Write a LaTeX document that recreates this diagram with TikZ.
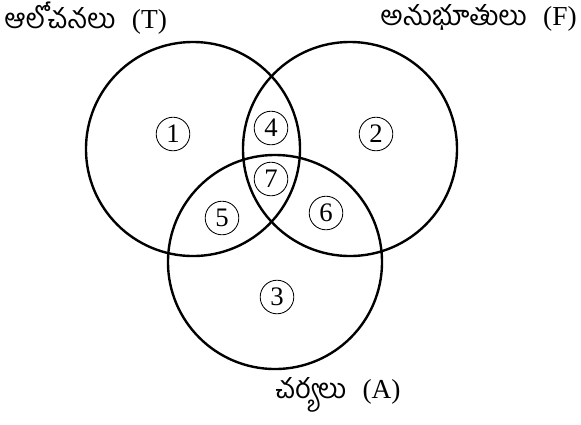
\documentclass[tikz,border=0pt]{standalone}
\usepackage{fontspec}
\setmainfont{Liberation Serif}
\newfontfamily\telugufont[Script=Telugu]{Hind Guntur}
\usetikzlibrary{positioning}

\begin{document}
\begin{tikzpicture}[x=0.025cm,y=-0.025cm,
  setcircle/.style={circle,draw,line width=1.7pt,minimum size=5.35cm,inner sep=0pt},
  region/.style={circle,draw,line width=0.6pt,minimum size=0.84cm,inner sep=0pt,
                 font=\fontsize{19}{19}\selectfont},
  setlabel/.style={inner sep=0pt,font=\fontsize{19.5}{24}\selectfont}]
\useasboundingbox (0,0) rectangle (581,424);
% the three sets
\node[setcircle] (thought) at (193,149) {};
\node[setcircle] (feeling) at (350,149) {};
\node[setcircle] (action)  at (275,262) {};
% set names
\node[setlabel,anchor=west] (tlabel) at (4,18)    {{\telugufont ఆలోచనలు}\hspace{0.6em}(T)};
\node[setlabel,anchor=east] (flabel) at (577,18)  {{\telugufont అనుభూతులు}\hspace{0.6em}(F)};
\node[setlabel]             (alabel) at (338,395) {{\telugufont చర్యలు}\hspace{0.6em}(A)};
% regions
\node[region] (r1) at (173,134) {1};
\node[region] (r2) at (376,134) {2};
\node[region] (r3) at (277,297) {3};
\node[region] (r4) at (271,128) {4};
\node[region] (r5) at (222,218) {5};
\node[region] (r6) at (326,213) {6};
\node[region] (r7) at (271,179) {7};
\end{tikzpicture}
\end{document}
